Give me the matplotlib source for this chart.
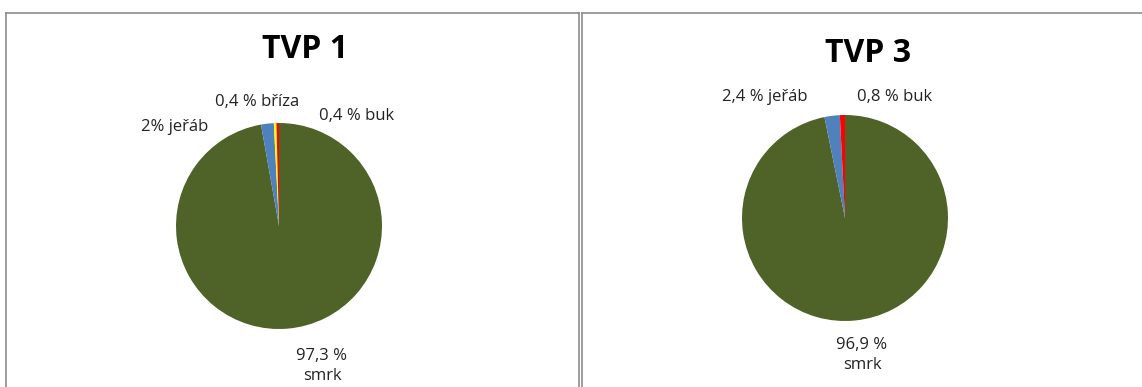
import matplotlib
matplotlib.use("Agg")
import matplotlib.pyplot as plt
from matplotlib.lines import Line2D

# Druhová skladba na plochách TVP 1 a TVP 3
titles = ["TVP 1", "TVP 3"]

species_1 = ["smrk", "jeřáb", "bříza", "buk"]
values_1 = [97.3, 2.0, 0.4, 0.4]
labels_1 = ["97,3 %\nsmrk", "2% jeřáb", "0,4 % bříza", "0,4 % buk"]

species_3 = ["smrk", "jeřáb", "buk"]
values_3 = [96.9, 2.4, 0.8]
labels_3 = ["96,9 %\nsmrk", "2,4 % jeřáb", "0,8 % buk"]

colors = {"smrk": "#4F6228", "jeřáb": "#4F81BD", "bříza": "#FFFF00", "buk": "#FF0000"}

W, H = 1142, 387
fig = plt.figure(figsize=(W / 100, H / 100), dpi=100)
fig.patch.set_facecolor("white")


def fx(x):
    return x / W


def fy(y):
    return 1 - y / H


# rámečky grafů
frame = "#8c8c8c"
for xs, ys in [([5.5, 5.5], [H, 12.5]), ([5.5, 578.5], [12.5, 12.5]), ([578.5, 578.5], [12.5, H]),
               ([581.5, 581.5], [H, 12.5]), ([581.5, W], [12.5, 12.5])]:
    fig.add_artist(Line2D([fx(x) for x in xs], [fy(y) for y in ys], color=frame, lw=1.2,
                          transform=fig.transFigure))

panels = [
    (titles[0], species_1, values_1, labels_1, (279, 226), (305, 49),
     [(322, 366), (175, 127), (257, 102), (357, 116)]),
    (titles[1], species_3, values_3, labels_3, (845, 218), (868, 53),
     [(862, 355), (765, 97), (895, 97)]),
]

r = 103
for title, names, vals, labs, (cx, cy), (tx, ty), lpos in panels:
    ax = fig.add_axes([fx(cx - r), fy(cy + r), 2 * r / W, 2 * r / H])
    ax.pie(vals, colors=[colors[n] for n in names], startangle=90, counterclock=False)
    ax.set_xlim(-1, 1)
    ax.set_ylim(-1, 1)
    ax.set_aspect("auto")
    ax.axis("off")
    fig.text(fx(tx), fy(ty), title, ha="center", va="center", fontsize=23,
             fontweight="bold", family="Open Sans")
    for lab, (lx, ly) in zip(labs, lpos):
        fig.text(fx(lx), fy(ly), lab, ha="center", va="center", fontsize=12,
                 family="Open Sans", color="#222222", linespacing=1.4)

fig.savefig("out.png", dpi=100)
